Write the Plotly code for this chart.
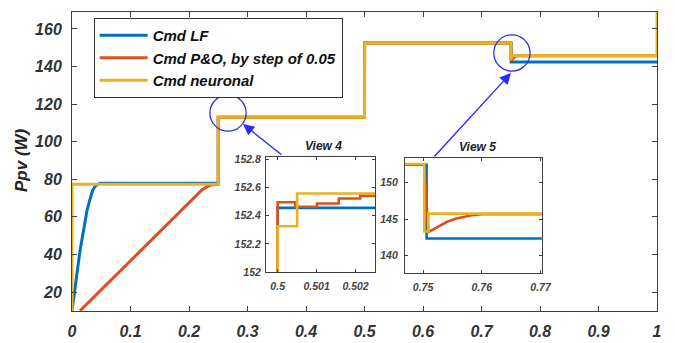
import plotly.graph_objects as go

# ---------------- data ----------------
t_lf = [0, 0.0137, 0.026, 0.03, 0.035, 0.04, 0.044, 0.048, 0.25, 0.25, 0.5, 0.5,
        0.7506, 0.7506, 1.0]
p_lf = [10, 42, 64, 69, 74, 76.5, 77.4, 77.9, 77.9, 113, 113, 152.455,
        152.455, 142.33, 142.33]

t_po = [0.0137, 0.1, 0.2, 0.212, 0.222, 0.232, 0.24, 0.25, 0.25, 0.5, 0.5, 0.5,
        0.50045, 0.50045, 0.50101, 0.50101, 0.50157, 0.50157, 0.50212, 0.50212,
        0.7502, 0.7509, 0.7525, 0.754, 0.7555, 0.757, 0.7585, 0.76, 0.762, 1.0]
p_po = [10, 36.8, 68, 71.5, 74.3, 76.2, 77.1, 77.3, 113, 113, 152.333, 152.495,
        152.495, 152.463, 152.463, 152.486, 152.486, 152.521, 152.521, 152.540,
        152.540, 143.2, 143.9, 144.6, 145.05, 145.35, 145.55, 145.68, 145.75, 145.75]

t_nn = [0, 0, 0.25, 0.25, 0.5, 0.5, 0.5005, 0.5005, 0.7502, 0.7502, 0.7509, 0.7509,
        1.0, 1.0]
p_nn = [0, 77.3, 77.3, 113, 113, 152.325, 152.325, 152.557, 152.557, 143.3, 143.3,
        145.75, 145.75, 185]

names = ["Cmd LF", "Cmd P&O, by step of 0.05", "Cmd neuronal"]
colors = ["#0072BD", "#D95319", "#EDB120"]

x_ticks = [0, 0.1, 0.2, 0.3, 0.4, 0.5, 0.6, 0.7, 0.8, 0.9, 1]
x_ticklabels = ["0", "0.1", "0.2", "0.3", "0.4", "0.5", "0.6", "0.7", "0.8", "0.9", "1"]
y_ticks = [20, 40, 60, 80, 100, 120, 140, 160]

v4_xticks = [0.5, 0.501, 0.502]
v4_yticks = [152, 152.2, 152.4, 152.6, 152.8]
v5_xticks = [0.75, 0.76, 0.77]
v5_yticks = [140, 145, 150]

# ---------------- figure ----------------
FONT = "Liberation Sans, Arial, sans-serif"
series = [(t_lf, p_lf), (t_po, p_po), (t_nn, p_nn)]

fig = go.Figure()
for (tx, py), nm, col in zip(series, names, colors):
    fig.add_trace(go.Scatter(x=tx, y=py, mode="lines", name=nm,
                             line=dict(color=col, width=3), xaxis="x", yaxis="y"))
for (tx, py), nm, col in zip(series, names, colors):
    fig.add_trace(go.Scatter(x=tx, y=py, mode="lines", name=nm, showlegend=False,
                             line=dict(color=col, width=2.6), xaxis="x2", yaxis="y2"))
for (tx, py), nm, col in zip(series, names, colors):
    fig.add_trace(go.Scatter(x=tx, y=py, mode="lines", name=nm, showlegend=False,
                             line=dict(color=col, width=2.6), xaxis="x3", yaxis="y3"))

frame = dict(showline=True, linecolor="#404040", linewidth=1, mirror="ticks",
             ticks="inside", tickcolor="#404040", showgrid=False, zeroline=False,
             automargin=False)
big = dict(family=FONT, size=16, color="#333333", weight="bold", style="italic")
small = dict(family=FONT, size=10.5, color="#444444", weight="bold", style="italic")

fig.update_layout(
    template="none",
    width=675, height=343,
    margin=dict(l=72, r=18, t=12, b=32, autoexpand=False),
    paper_bgcolor="white", plot_bgcolor="white",
    showlegend=True,
    legend=dict(x=0.037, y=0.98, xanchor="left", yanchor="top",
                bgcolor="white", bordercolor="#333333", borderwidth=1,
                font=dict(family=FONT, size=15, color="#111111", weight="bold", style="italic"),
                itemwidth=48, tracegroupgap=0),
    xaxis=dict(range=[0, 1], tickvals=x_ticks, ticktext=x_ticklabels, ticklen=5,
               tickfont=big, ticklabelstandoff=6, **frame),
    yaxis=dict(range=[9.9, 169], tickvals=y_ticks, ticklen=5,
               tickfont=big, ticklabelstandoff=6, **frame),
    xaxis2=dict(domain=[0.3316, 0.518], anchor="y2", range=[0.4997, 0.5025],
                tickvals=v4_xticks, ticktext=["0.5", "0.501", "0.502"], ticklen=3,
                tickfont=small, ticklabelstandoff=4, **frame),
    yaxis2=dict(domain=[0.130, 0.515], anchor="x2", range=[152, 152.815],
                tickvals=v4_yticks, ticktext=["152", "152.2", "152.4", "152.6", "152.8"],
                ticklen=3, tickfont=small, ticklabelstandoff=2, **frame),
    xaxis3=dict(domain=[0.569, 0.803], anchor="y3", range=[0.7469, 0.7702],
                tickvals=v5_xticks, ticktext=["0.75", "0.76", "0.77"], ticklen=3,
                tickfont=small, ticklabelstandoff=4, **frame),
    yaxis3=dict(domain=[0.127, 0.512], anchor="x3", range=[137.6, 153.4],
                tickvals=v5_yticks, ticklen=3, tickfont=small, ticklabelstandoff=4, **frame),
)

# circles
circ = dict(type="circle", xref="paper", yref="paper",
            line=dict(color="#3030e8", width=1.3), fillcolor="rgba(0,0,0,0)")
fig.add_shape(x0=0.2667 - 0.031, x1=0.2667 + 0.031, y0=0.662 - 0.0607, y1=0.662 + 0.0607, **circ)
fig.add_shape(x0=0.752 - 0.031, x1=0.752 + 0.031, y0=0.863 - 0.0607, y1=0.863 + 0.0607, **circ)

# arrows
arr = dict(xref="paper", yref="paper", showarrow=True, arrowhead=2, arrowsize=1.6,
           arrowwidth=1.4, arrowcolor="#2a2aff", text="")
fig.add_annotation(x=0.2923, y=0.6254, ax=40, ay=32, **arr)
fig.add_annotation(x=0.7504, y=0.796, ax=-78, ay=85, **arr)

# inset titles
ttl = dict(family=FONT, size=12, color="#222222", weight="bold", style="italic")
fig.add_annotation(x=(323 - 72) / 585, y=(311 - 146) / 299, xref="paper", yref="paper",
                   xanchor="center", yanchor="middle",
                   text="View 4", showarrow=False, font=ttl)
fig.add_annotation(x=(477 - 72) / 585, y=(311 - 147) / 299, xref="paper", yref="paper",
                   xanchor="center", yanchor="middle",
                   text="View 5", showarrow=False, font=ttl)

# y-axis title
fig.add_annotation(x=(21 - 72) / 585, y=(311 - 160) / 299, xref="paper", yref="paper",
                   xanchor="center", yanchor="middle",
                   text="Ppv (W)", textangle=-90, showarrow=False,
                   font=dict(family=FONT, size=17, color="#222222", weight="bold", style="italic"))

fig.write_html("out.html", config={"displayModeBar": False},
               post_script="document.body.style.margin='0';document.body.style.overflow='hidden';")
